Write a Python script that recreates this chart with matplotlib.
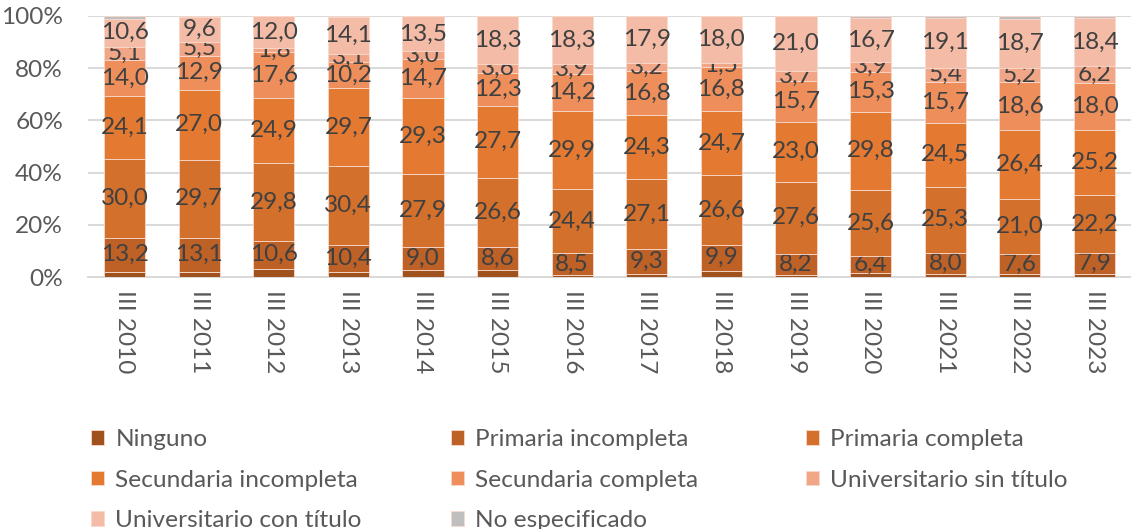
import matplotlib.pyplot as plt
import numpy as np

plt.rcParams['font.family'] = ['Lato', 'DejaVu Sans']

years = ['III 2010', 'III 2011', 'III 2012', 'III 2013', 'III 2014', 'III 2015', 'III 2016',
         'III 2017', 'III 2018', 'III 2019', 'III 2020', 'III 2021', 'III 2022', 'III 2023']

# porcentajes por nivel educativo (de abajo hacia arriba)
ninguno = [1.9, 2.0, 3.2, 1.8, 2.5, 2.8, 0.7, 1.3, 2.4, 0.7, 1.5, 1.3, 1.2, 1.2]
prim_inc = [13.2, 13.1, 10.6, 10.4, 9.0, 8.6, 8.5, 9.3, 9.9, 8.2, 6.4, 8.0, 7.6, 7.9]
prim_comp = [30.0, 29.7, 29.8, 30.4, 27.9, 26.6, 24.4, 27.1, 26.6, 27.6, 25.6, 25.3, 21.0, 22.2]
sec_inc = [24.1, 27.0, 24.9, 29.7, 29.3, 27.7, 29.9, 24.3, 24.7, 23.0, 29.8, 24.5, 26.4, 25.2]
sec_comp = [14.0, 12.9, 17.6, 10.2, 14.7, 12.3, 14.2, 16.8, 16.8, 15.7, 15.3, 15.7, 18.6, 18.0]
univ_sin = [5.1, 5.5, 1.8, 3.1, 3.0, 3.6, 3.9, 3.2, 1.5, 3.7, 3.9, 5.4, 5.2, 6.2]
univ_con = [10.6, 9.6, 12.0, 14.1, 13.5, 18.3, 18.3, 17.9, 18.0, 21.0, 16.7, 19.1, 18.7, 18.4]
no_esp = [1.1, 0.2, 0.1, 0.3, 0.1, 0.1, 0.1, 0.1, 0.1, 0.1, 0.8, 0.7, 1.3, 0.9]

series = [
    ('Ninguno', ninguno, '#A0521E', False),
    ('Primaria incompleta', prim_inc, '#BE6127', True),
    ('Primaria completa', prim_comp, '#D3702C', True),
    ('Secundaria incompleta', sec_inc, '#E47A31', True),
    ('Secundaria completa', sec_comp, '#EE8F5B', True),
    ('Universitario sin título', univ_sin, '#F1A787', True),
    ('Universitario con título', univ_con, '#F4BCA7', True),
    ('No especificado', no_esp, '#BFBFBF', False),
]

W, H = 1131, 529
FS = 17.6
fig = plt.figure(figsize=(W / 100, H / 100), dpi=100)
ax = fig.add_axes([88 / W, 1 - 277 / H, (W - 88) / W, 261 / H])

x = np.arange(len(years))
bottom = np.zeros(len(years))
handles = {}
for name, vals, color, show in series:
    vals = np.array(vals)
    bars = ax.bar(x, vals, 0.55, bottom=bottom, color=color, edgecolor='#F8D9CC',
                  linewidth=0.6, label=name, zorder=3)
    handles[name] = bars
    if show:
        ax.bar_label(bars, labels=[f'{v:.1f}'.replace('.', ',') for v in vals],
                     label_type='center', fontsize=FS, color='#404040')
    bottom += vals

ax.set_xlim(-0.49, len(years) - 0.51)
ax.set_ylim(0, 100)
ax.set_yticks(np.arange(0, 101, 20))
ax.set_yticklabels([f'{v}%' for v in range(0, 101, 20)])
ax.set_xticks(x)
ax.set_xticklabels(years, rotation=270, va='top', ha='center')
ax.tick_params(axis='both', length=0, labelsize=FS, labelcolor='#595959')
ax.tick_params(axis='y', pad=18)
ax.tick_params(axis='x', pad=9)
ax.grid(axis='y', color='#D9D9D9', linewidth=1.4, zorder=0)
for s in ['top', 'right', 'left']:
    ax.spines[s].set_visible(False)
ax.spines['bottom'].set_color('#D9D9D9')
ax.spines['bottom'].set_linewidth(1.4)

# leyenda en tres columnas de igual ancho
names = [s[0] for s in series]
cols = [[names[0], names[3], names[6]],
        [names[1], names[4], names[7]],
        [names[2], names[5]]]
col_x = [91, 451, 806]
for cx, col in zip(col_x, cols):
    fig.legend([handles[n] for n in col], col, loc='upper left',
               bbox_to_anchor=(cx / W, 1 - 429 / H), frameon=False,
               fontsize=FS, labelcolor='#595959', handlelength=0.55,
               handleheight=0.55, handletextpad=0.45, labelspacing=0.8,
               borderpad=0, borderaxespad=0)

fig.savefig('out.png', dpi=100)
